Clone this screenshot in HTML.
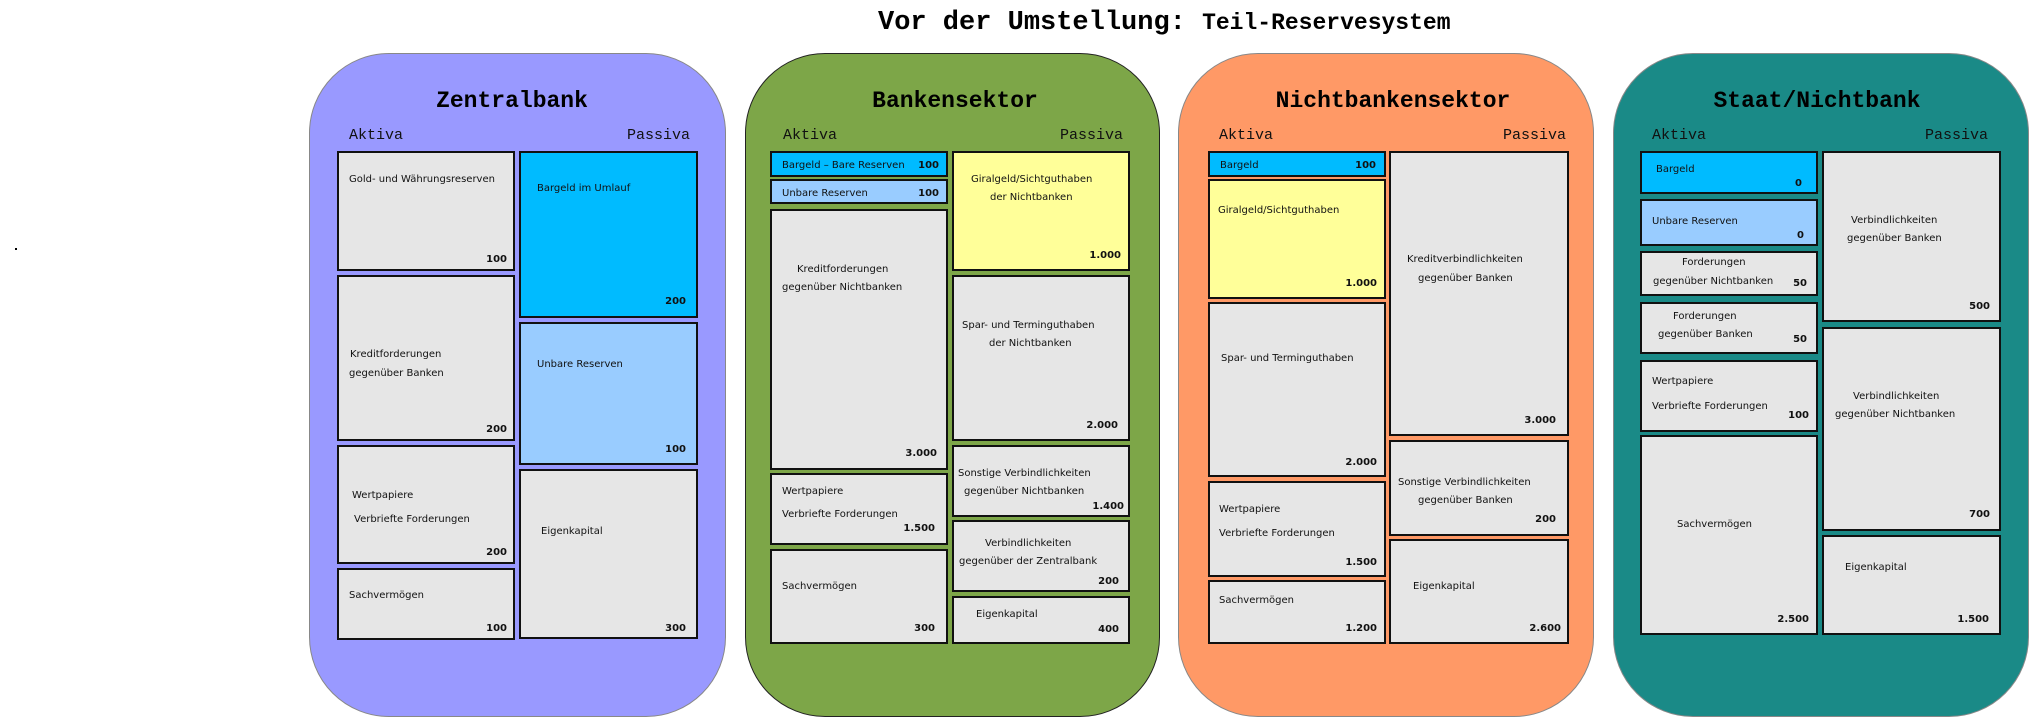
<!DOCTYPE html>
<html><head><meta charset="utf-8"><style>
body{margin:0;width:2030px;height:719px;background:#fff;position:relative;overflow:hidden;font-family:"DejaVu Sans","Liberation Sans",sans-serif}
.p{position:absolute;top:53px;height:664px;border-radius:80px;box-sizing:border-box;border:1.5px solid #888}
.b{position:absolute;box-sizing:border-box;border:2px solid #111;background:#e6e6e6}
.t{position:absolute;font-size:10px;line-height:12px;white-space:nowrap;color:#111}
.n{position:absolute;font-size:10px;line-height:12px;font-weight:bold;width:60px;text-align:right;color:#111}
.h{position:absolute;font-family:"Liberation Mono",monospace;font-weight:bold;font-size:23px;line-height:26px;width:400px;text-align:center;top:88px}
.a{position:absolute;font-family:"Liberation Mono",monospace;font-size:15px;line-height:18px;top:127px;color:#111}
.pa{width:100px;text-align:right}
</style></head><body>
<div style="position:absolute;left:878px;top:8px;white-space:nowrap;font-family:'Liberation Mono',monospace;font-weight:bold;line-height:30px"><span style="font-size:27px">Vor der Umstellung: </span><span style="font-size:23px">Teil-Reservesystem</span></div>
<div style="position:absolute;left:15px;top:248px;width:2px;height:2px;background:#000"></div>

<div class="p" style="left:309px;width:417px;background:#9999ff"></div>
<div class="p" style="left:745px;width:415px;background:#7da648;border-color:#222"></div>
<div class="p" style="left:1178px;width:416px;background:#ff9966"></div>
<div class="p" style="left:1613px;width:416px;background:#1a8a87"></div>

<div class="h" style="left:312px">Zentralbank</div>
<div class="h" style="left:755px">Bankensektor</div>
<div class="h" style="left:1193px">Nichtbankensektor</div>
<div class="h" style="left:1617px">Staat/Nichtbank</div>
<div class="a" style="left:349px">Aktiva</div><div class="a pa" style="left:590px">Passiva</div>
<div class="a" style="left:783px">Aktiva</div><div class="a pa" style="left:1023px">Passiva</div>
<div class="a" style="left:1219px">Aktiva</div><div class="a pa" style="left:1466px">Passiva</div>
<div class="a" style="left:1652px">Aktiva</div><div class="a pa" style="left:1888px">Passiva</div>

<!-- P1 -->
<div class="b" style="left:337px;top:151px;width:178px;height:120px"></div>
<div class="b" style="left:337px;top:275px;width:178px;height:166px"></div>
<div class="b" style="left:337px;top:445px;width:178px;height:119px"></div>
<div class="b" style="left:337px;top:568px;width:178px;height:72px"></div>
<div class="b" style="left:519px;top:151px;width:179px;height:167px;background:#00bbff"></div>
<div class="b" style="left:519px;top:322px;width:179px;height:143px;background:#99ccff"></div>
<div class="b" style="left:519px;top:469px;width:179px;height:170px"></div>
<div class="t" style="left:349px;top:174px">Gold- und Währungsreserven</div><div class="n" style="left:447px;top:254px">100</div>
<div class="t" style="left:350px;top:349px">Kreditforderungen</div><div class="t" style="left:349px;top:368px">gegenüber Banken</div><div class="n" style="left:447px;top:424px">200</div>
<div class="t" style="left:352px;top:490px">Wertpapiere</div><div class="t" style="left:354px;top:514px">Verbriefte Forderungen</div><div class="n" style="left:447px;top:547px">200</div>
<div class="t" style="left:349px;top:590px">Sachvermögen</div><div class="n" style="left:447px;top:623px">100</div>
<div class="t" style="left:537px;top:183px">Bargeld im Umlauf</div><div class="n" style="left:626px;top:296px">200</div>
<div class="t" style="left:537px;top:359px">Unbare Reserven</div><div class="n" style="left:626px;top:444px">100</div>
<div class="t" style="left:541px;top:526px">Eigenkapital</div><div class="n" style="left:626px;top:623px">300</div>

<!-- P2 -->
<div class="b" style="left:770px;top:151px;width:178px;height:26px;background:#00bbff"></div>
<div class="b" style="left:770px;top:179px;width:178px;height:25px;background:#99ccff"></div>
<div class="b" style="left:770px;top:209px;width:178px;height:261px"></div>
<div class="b" style="left:770px;top:473px;width:178px;height:72px"></div>
<div class="b" style="left:770px;top:549px;width:178px;height:95px"></div>
<div class="b" style="left:952px;top:151px;width:178px;height:120px;background:#ffff99"></div>
<div class="b" style="left:952px;top:275px;width:178px;height:166px"></div>
<div class="b" style="left:952px;top:445px;width:178px;height:72px"></div>
<div class="b" style="left:952px;top:520px;width:178px;height:72px"></div>
<div class="b" style="left:952px;top:596px;width:178px;height:48px"></div>
<div class="t" style="left:782px;top:160px">Bargeld – Bare Reserven</div><div class="n" style="left:879px;top:160px">100</div>
<div class="t" style="left:782px;top:188px">Unbare Reserven</div><div class="n" style="left:879px;top:188px">100</div>
<div class="t" style="left:797px;top:264px">Kreditforderungen</div><div class="t" style="left:782px;top:282px">gegenüber Nichtbanken</div><div class="n" style="left:877px;top:448px">3.000</div>
<div class="t" style="left:782px;top:486px">Wertpapiere</div><div class="t" style="left:782px;top:509px">Verbriefte Forderungen</div><div class="n" style="left:875px;top:523px">1.500</div>
<div class="t" style="left:782px;top:581px">Sachvermögen</div><div class="n" style="left:875px;top:623px">300</div>
<div class="t" style="left:971px;top:174px">Giralgeld/Sichtguthaben</div><div class="t" style="left:990px;top:192px">der Nichtbanken</div><div class="n" style="left:1061px;top:250px">1.000</div>
<div class="t" style="left:962px;top:320px">Spar- und Terminguthaben</div><div class="t" style="left:989px;top:338px">der Nichtbanken</div><div class="n" style="left:1058px;top:420px">2.000</div>
<div class="t" style="left:958px;top:468px">Sonstige Verbindlichkeiten</div><div class="t" style="left:964px;top:486px">gegenüber Nichtbanken</div><div class="n" style="left:1064px;top:501px">1.400</div>
<div class="t" style="left:985px;top:538px">Verbindlichkeiten</div><div class="t" style="left:959px;top:556px">gegenüber der Zentralbank</div><div class="n" style="left:1059px;top:576px">200</div>
<div class="t" style="left:976px;top:609px">Eigenkapital</div><div class="n" style="left:1059px;top:624px">400</div>

<!-- P3 -->
<div class="b" style="left:1208px;top:151px;width:178px;height:26px;background:#00bbff"></div>
<div class="b" style="left:1208px;top:179px;width:178px;height:120px;background:#ffff99"></div>
<div class="b" style="left:1208px;top:302px;width:178px;height:175px"></div>
<div class="b" style="left:1208px;top:481px;width:178px;height:96px"></div>
<div class="b" style="left:1208px;top:580px;width:178px;height:64px"></div>
<div class="b" style="left:1389px;top:151px;width:180px;height:285px"></div>
<div class="b" style="left:1389px;top:440px;width:180px;height:96px"></div>
<div class="b" style="left:1389px;top:539px;width:180px;height:105px"></div>
<div class="t" style="left:1220px;top:160px">Bargeld</div><div class="n" style="left:1316px;top:160px">100</div>
<div class="t" style="left:1218px;top:205px">Giralgeld/Sichtguthaben</div><div class="n" style="left:1317px;top:278px">1.000</div>
<div class="t" style="left:1221px;top:353px">Spar- und Terminguthaben</div><div class="n" style="left:1317px;top:457px">2.000</div>
<div class="t" style="left:1219px;top:504px">Wertpapiere</div><div class="t" style="left:1219px;top:528px">Verbriefte Forderungen</div><div class="n" style="left:1317px;top:557px">1.500</div>
<div class="t" style="left:1219px;top:595px">Sachvermögen</div><div class="n" style="left:1317px;top:623px">1.200</div>
<div class="t" style="left:1407px;top:254px">Kreditverbindlichkeiten</div><div class="t" style="left:1418px;top:273px">gegenüber Banken</div><div class="n" style="left:1496px;top:415px">3.000</div>
<div class="t" style="left:1398px;top:477px">Sonstige Verbindlichkeiten</div><div class="t" style="left:1418px;top:495px">gegenüber Banken</div><div class="n" style="left:1496px;top:514px">200</div>
<div class="t" style="left:1413px;top:581px">Eigenkapital</div><div class="n" style="left:1501px;top:623px">2.600</div>

<!-- P4 -->
<div class="b" style="left:1640px;top:151px;width:178px;height:43px;background:#00bbff"></div>
<div class="b" style="left:1640px;top:199px;width:178px;height:47px;background:#99ccff"></div>
<div class="b" style="left:1640px;top:251px;width:178px;height:45px"></div>
<div class="b" style="left:1640px;top:302px;width:178px;height:52px"></div>
<div class="b" style="left:1640px;top:360px;width:178px;height:72px"></div>
<div class="b" style="left:1640px;top:435px;width:178px;height:200px"></div>
<div class="b" style="left:1822px;top:151px;width:179px;height:171px"></div>
<div class="b" style="left:1822px;top:327px;width:179px;height:204px"></div>
<div class="b" style="left:1822px;top:535px;width:179px;height:100px"></div>
<div class="t" style="left:1656px;top:164px">Bargeld</div><div class="n" style="left:1742px;top:178px">0</div>
<div class="t" style="left:1652px;top:216px">Unbare Reserven</div><div class="n" style="left:1744px;top:230px">0</div>
<div class="t" style="left:1682px;top:257px">Forderungen</div><div class="t" style="left:1653px;top:276px">gegenüber Nichtbanken</div><div class="n" style="left:1747px;top:278px">50</div>
<div class="t" style="left:1673px;top:311px">Forderungen</div><div class="t" style="left:1658px;top:329px">gegenüber Banken</div><div class="n" style="left:1747px;top:334px">50</div>
<div class="t" style="left:1652px;top:376px">Wertpapiere</div><div class="t" style="left:1652px;top:401px">Verbriefte Forderungen</div><div class="n" style="left:1749px;top:410px">100</div>
<div class="t" style="left:1677px;top:519px">Sachvermögen</div><div class="n" style="left:1749px;top:614px">2.500</div>
<div class="t" style="left:1851px;top:215px">Verbindlichkeiten</div><div class="t" style="left:1847px;top:233px">gegenüber Banken</div><div class="n" style="left:1930px;top:301px">500</div>
<div class="t" style="left:1853px;top:391px">Verbindlichkeiten</div><div class="t" style="left:1835px;top:409px">gegenüber Nichtbanken</div><div class="n" style="left:1930px;top:509px">700</div>
<div class="t" style="left:1845px;top:562px">Eigenkapital</div><div class="n" style="left:1929px;top:614px">1.500</div>
</body></html>
